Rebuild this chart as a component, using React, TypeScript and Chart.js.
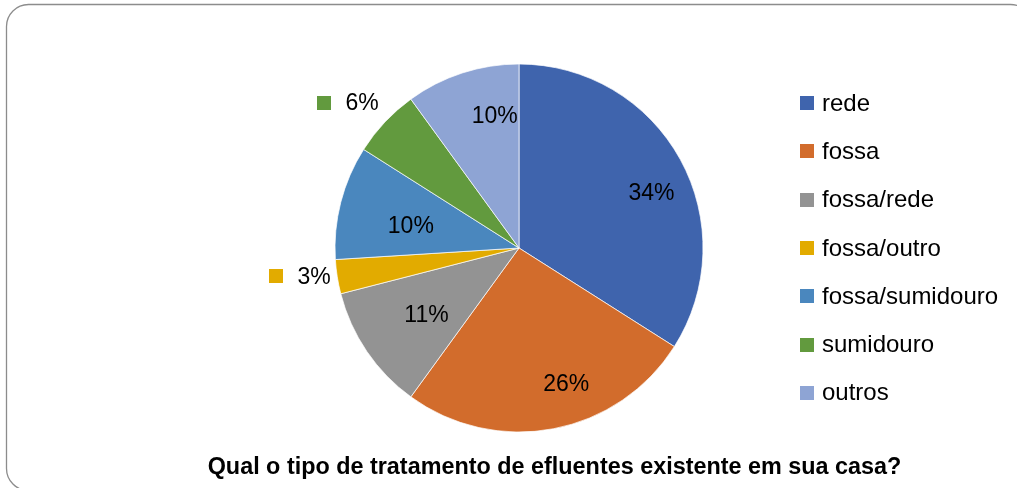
import React, { useEffect, useRef } from "react";
import { Chart, registerables } from "chart.js";

Chart.register(...registerables);

const categories = ["rede", "fossa", "fossa/rede", "fossa/outro", "fossa/sumidouro", "sumidouro", "outros"];
const values = [34, 26, 11, 3, 10, 6, 10];
const valueLabels = ["34%", "26%", "11%", "3%", "10%", "6%", "10%"];
const colors = ["#3F64AD", "#D26C2C", "#939393", "#E2AB00", "#4A87BE", "#629A3E", "#8EA4D4"];
const titleText = "Qual o tipo de tratamento de efluentes existente em sua casa?";

// label placement style: fraction along the arc, fraction of radius, outside with key
const labelT = [0.55, 0.41, 0.46, 0.65, 0.42, 0.37, 0.71];
const labelF = [0.78, 0.78, 0.62, 1.2, 0.6, 1.22, 0.73];
const labelOutside = [false, false, false, true, false, true, false];

const FONT = "'Liberation Sans', Arial, sans-serif";

const decorPlugin = {
  id: "decor",
  afterDraw(chart: any) {
    const ctx = chart.ctx as CanvasRenderingContext2D;
    const meta = chart.getDatasetMeta(0);
    ctx.save();
    // data labels
    meta.data.forEach((arc: any, i: number) => {
      const p = arc.getProps(["x", "y", "startAngle", "endAngle", "outerRadius"], true);
      const a = p.startAngle + labelT[i] * (p.endAngle - p.startAngle);
      const r = p.outerRadius * labelF[i];
      const cx = p.x + r * Math.cos(a);
      const cy = p.y + r * Math.sin(a);
      ctx.font = `23px ${FONT}`;
      ctx.fillStyle = "#000";
      ctx.textBaseline = "middle";
      if (labelOutside[i]) {
        const tw = ctx.measureText(valueLabels[i]).width;
        const box = 14;
        const gap = 14;
        const total = box + gap + tw;
        const left = cx - total / 2;
        ctx.fillStyle = colors[i];
        ctx.fillRect(Math.round(left), Math.round(cy - box / 2), box, box);
        ctx.fillStyle = "#000";
        ctx.textAlign = "left";
        ctx.fillText(valueLabels[i], left + box + gap, cy + 1);
      } else {
        ctx.textAlign = "center";
        ctx.fillText(valueLabels[i], cx, cy + 1);
      }
    });
    // legend
    categories.forEach((c, i) => {
      const cy = 103 + i * 48.3;
      ctx.fillStyle = colors[i];
      ctx.fillRect(800, Math.round(cy - 7), 14, 14);
      ctx.fillStyle = "#000";
      ctx.font = `24px ${FONT}`;
      ctx.textAlign = "left";
      ctx.textBaseline = "middle";
      ctx.fillText(c, 822, cy + 1);
    });
    // title
    ctx.font = `bold 100px ${FONT}`;
    const w100 = ctx.measureText(titleText).width;
    const size = (100 * 694) / w100;
    ctx.font = `bold ${size}px ${FONT}`;
    ctx.textAlign = "center";
    ctx.textBaseline = "alphabetic";
    ctx.fillStyle = "#000";
    ctx.fillText(titleText, 554.5, 474);
    // border
    ctx.strokeStyle = "#8C8C8C";
    ctx.lineWidth = 1.3;
    ctx.beginPath();
    (ctx as any).roundRect(6.5, 4.5, 1026, 486, 22);
    ctx.stroke();
    ctx.restore();
  },
};

export default function App() {
  const ref = useRef<HTMLCanvasElement>(null);
  useEffect(() => {
    if (!ref.current) return;
    const chart = new Chart(ref.current, {
      type: "pie",
      data: {
        labels: categories,
        datasets: [
          {
            data: values,
            backgroundColor: colors,
            borderColor: "rgba(255,255,255,0.7)",
            borderWidth: 1,
            radius: 184,
          },
        ],
      },
      options: {
        responsive: false,
        animation: false,
        layout: { padding: { left: 335, top: 64, right: 314, bottom: 56 } },
        plugins: {
          legend: { display: false },
          tooltip: { enabled: false },
          title: { display: false },
        },
      },
      plugins: [decorPlugin],
    });
    return () => chart.destroy();
  }, []);
  return (
    <div style={{ position: "fixed", left: 0, top: 0, width: 1017, height: 488, background: "#fff" }}>
      <canvas ref={ref} width={1017} height={488} style={{ display: "block" }} />
    </div>
  );
}
